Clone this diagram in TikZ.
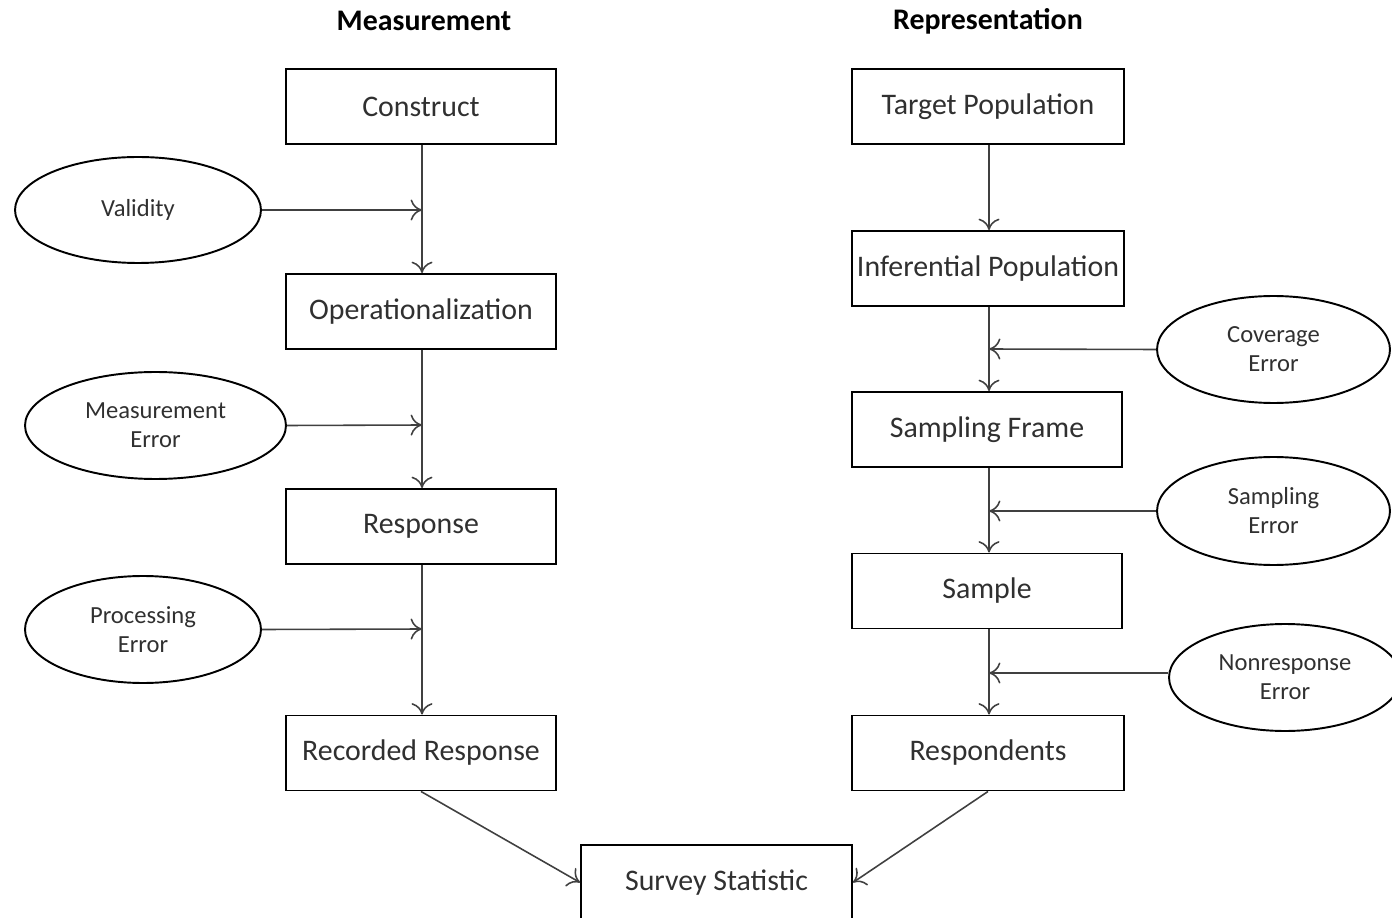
\documentclass[tikz,border=0pt]{standalone}
\usepackage{fontspec}
\setmainfont{Carlito}
\usetikzlibrary{shapes.geometric,arrows.meta}
\definecolor{txt}{HTML}{303030}
\definecolor{conn}{HTML}{404040}
\tikzset{
  box/.style={draw=black,line width=1.1pt,rectangle,minimum width=5.4cm,minimum height=1.5cm,inner sep=0pt,font=\fontsize{17}{19}\selectfont,text=txt},
  err/.style={draw=black,line width=1.1pt,ellipse,inner sep=0pt,font=\fontsize{14}{16.5}\selectfont,text=txt,align=center},
  conn/.style={draw=conn,line width=0.9pt,-{To[length=6.5pt,width=12pt]}},
  ttl/.style={font=\bfseries\fontsize{17}{19}\selectfont,text=black}
}
\begin{document}
\begin{tikzpicture}[x=0.02cm,y=-0.02cm]
\useasboundingbox (0,0) rectangle (1392,918);
\node[ttl] (tm) at (424,21) {Measurement};
\node[ttl] (tr) at (988,21) {Representation};
% left column
\node[box] (construct) at (421,106.5) {Construct};
\node[box] (oper) at (421,311.5) {Operationalization};
\node[box] (resp) at (421,526.5) {Response};
\node[box] (rec) at (421,753) {Recorded Response};
% right column
\node[box,minimum width=5.44cm] (target) at (988,106.5) {Target Population};
\node[box,minimum width=5.44cm] (infer) at (988,268.5) {Inferential Population};
\node[box] (frame) at (987,429.5) {Sampling Frame};
\node[box] (sample) at (987,591) {Sample};
\node[box,minimum width=5.44cm] (respondents) at (988,753) {Respondents};
% bottom
\node[box,minimum width=5.42cm] (stat) at (716.5,882.5) {Survey Statistic};
% ellipses
\node[err,minimum width=4.92cm,minimum height=2.12cm] (valid) at (138,210) {Validity};
\node[err,minimum width=5.22cm,minimum height=2.14cm] (merr) at (155.5,425.5) {Measurement\\Error};
\node[err,minimum width=4.72cm,minimum height=2.14cm] (perr) at (143,629.5) {Processing\\Error};
\node[err,minimum width=4.66cm,minimum height=2.14cm] (cerr) at (1273.5,349.5) {Coverage\\Error};
\node[err,minimum width=4.66cm,minimum height=2.16cm] (serr) at (1273.5,511) {Sampling\\Error};
\node[err,minimum width=4.64cm,minimum height=2.14cm] (nerr) at (1285,677.5) {Nonresponse\\Error};
% join points
\coordinate (j1) at (422,210);
\coordinate (j2) at (422,425);
\coordinate (j3) at (422,629);
\coordinate (k1) at (989,349);
\coordinate (k2) at (989,511);
\coordinate (k3) at (989,673);
% vertical arrows
\draw[conn] (construct.south -| j1) -- (oper.north -| j1);
\draw[conn] (oper.south -| j1) -- (resp.north -| j1);
\draw[conn] (resp.south -| j1) -- (rec.north -| j1);
\draw[conn] (target.south -| k1) -- (infer.north -| k1);
\draw[conn] (infer.south -| k1) -- (frame.north -| k1);
\draw[conn] (frame.south -| k1) -- (sample.north -| k1);
\draw[conn] (sample.south -| k1) -- (respondents.north -| k1);
% error arrows
\draw[conn] (valid.east) -- (j1);
\draw[conn] (merr.east) -- (j2);
\draw[conn] (perr.east) -- (j3);
\draw[conn] (cerr.west) -- (k1);
\draw[conn] (serr.west) -- (k2);
\draw[conn] (nerr.west |- k3) -- (k3);
% to statistic
\draw[conn] (rec.south) -- (stat.west);
\draw[conn] (respondents.south) -- (stat.east);
\end{tikzpicture}
\end{document}
